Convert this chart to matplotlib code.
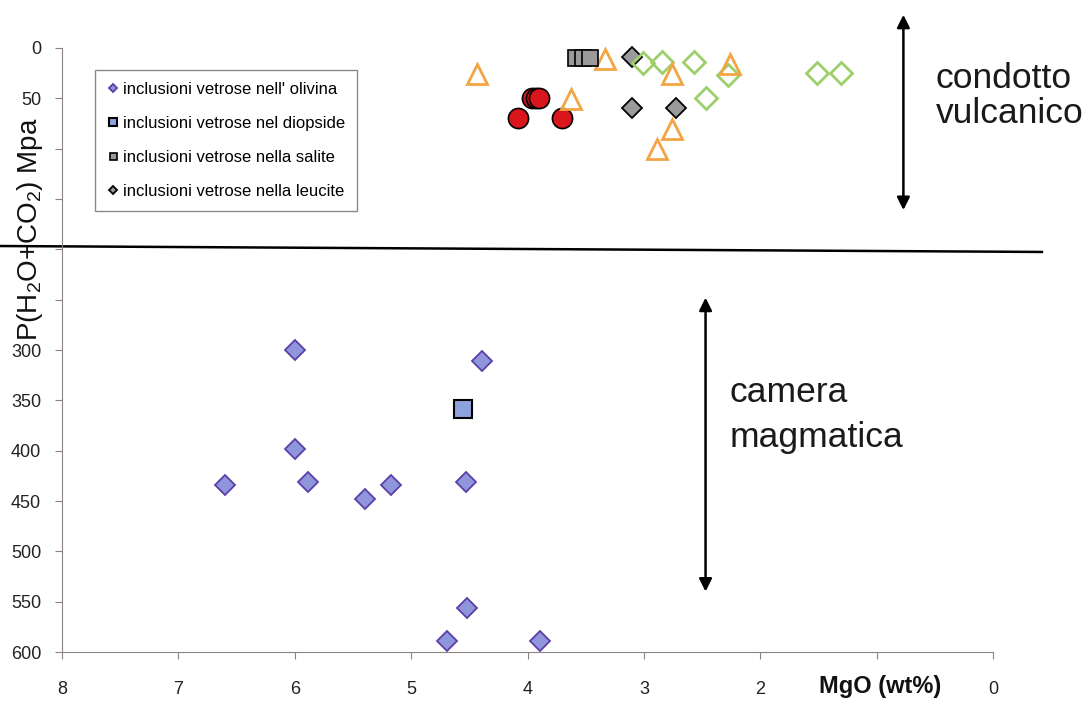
import matplotlib.pyplot as plt

plt.rcParams['font.family'] = ['Liberation Sans', 'DejaVu Sans']
plt.rcParams['mathtext.default'] = 'regular'

# MgO (wt%) e P(H2O+CO2) in MPa per ogni gruppo di inclusioni
oliv_mgo = [6.0, 4.39, 6.0, 6.6, 5.89, 5.4, 5.17, 4.53, 4.52, 4.69, 3.89]
oliv_p = [300, 311, 398, 434, 431, 448, 434, 431, 556, 589, 589]
diop_mgo = [4.55]
diop_p = [359]
sal_mgo = [3.58, 3.52, 3.46]
sal_p = [10, 10, 10]
leuc_mgo = [3.10, 3.10, 2.72]
leuc_p = [9, 60, 60]
rossi_mgo = [4.08, 3.70, 3.96, 3.93, 3.90]
rossi_p = [70, 70, 50, 50, 50]
tri_mgo = [4.43, 3.33, 3.63, 2.76, 2.26, 2.76, 2.89]
tri_p = [26, 11, 51, 26, 16, 80, 100]
verdi_mgo = [3.01, 2.84, 2.57, 2.28, 2.47, 1.51, 1.31]
verdi_p = [15, 14, 14, 27, 50, 25, 25]

yticks = [0, 50, 100, 150, 200, 250, 300, 350, 400, 450, 500, 550, 600]
ylabels = ['0', '50', '', '', '', '', '300', '350', '400', '450', '500', '550', '600']
xticks = [8, 7, 6, 5, 4, 3, 2, 1, 0]
xlabels = ['8', '7', '6', '5', '4', '3', '2', '', '0']

asse = '#8c8282'

fig = plt.figure(figsize=(10.86, 7.04), dpi=100)
ax = fig.add_axes([62/1086, 52/704, 931/1086, 604/704])

# linea di separazione condotto / camera
ax.plot([8.53, -0.42], [196.7, 202.6], color='black', lw=1.8, clip_on=False)

ax.plot(rossi_mgo, rossi_p, 'o', ms=14.5, mfc='#d8161c', mec='black', mew=1.2, clip_on=False)
ax.plot(leuc_mgo, leuc_p, 'D', ms=10, mfc='#9a9a9a', mec='black', mew=1.3,
        label='inclusioni vetrose nella leucite', clip_on=False)
ax.plot(verdi_mgo, verdi_p, 'D', ms=11, mfc='none', mec='#9dcf6b', mew=2, clip_on=False)
ax.plot(tri_mgo, tri_p, '^', ms=14, mfc='none', mec='#f4a443', mew=2, clip_on=False)
ax.plot(sal_mgo, sal_p, 's', ms=12, mfc='#9a9a9a', mec='black', mew=1.2,
        label='inclusioni vetrose nella salite', clip_on=False)
ax.plot(oliv_mgo, oliv_p, 'D', ms=10, mfc='#9096dc', mec='#5b3fa8', mew=1.3,
        label="inclusioni vetrose nell' olivina", clip_on=False)
ax.plot(diop_mgo, diop_p, 's', ms=13, mfc='#8fa2e0', mec='black', mew=1.5,
        label='inclusioni vetrose nel diopside', clip_on=False)

ax.set_xlim(8, 0)
ax.set_ylim(600, 0)
ax.set_xticks(xticks)
ax.set_xticklabels(xlabels)
ax.set_yticks(yticks)
ax.set_yticklabels(ylabels)

for s in ['top', 'right']:
    ax.spines[s].set_visible(False)
for s in ['left', 'bottom']:
    ax.spines[s].set_color(asse)
ax.tick_params(axis='both', colors=asse, labelcolor='#222222', labelsize=13, length=5)
ax.tick_params(axis='x', pad=16)
ax.tick_params(axis='y', pad=10)

ax.set_xlabel('MgO (wt%)', fontsize=17, fontweight='bold', color='#111111')
ax.xaxis.set_label_coords(0.879, -0.038)
ax.set_ylabel('P(H$_2$O+CO$_2$) Mpa', fontsize=20, color='#111111', va='center')
ax.yaxis.set_label_coords(-0.034, 0.70)

h, l = ax.get_legend_handles_labels()
ordine = [2, 3, 1, 0]
leg = ax.legend([h[i] for i in ordine], [l[i] for i in ordine], loc='upper left',
                bbox_to_anchor=(0.0354, 0.9636), borderaxespad=0, fontsize=12,
                markerscale=0.42, handlelength=0.8, handletextpad=0.2,
                labelspacing=1.15, borderpad=0.7, fancybox=False, framealpha=1)
leg.get_frame().set_edgecolor('#8a8a8a')
leg.get_frame().set_linewidth(1.0)

frecce = dict(arrowstyle='<|-|>', color='black', lw=1.8, mutation_scale=19,
              shrinkA=0, shrinkB=0)
ax.annotate('', xy=(0.77, -33), xytext=(0.77, 161), arrowprops=frecce,
            annotation_clip=False)
ax.annotate('', xy=(2.47, 248), xytext=(2.47, 540), arrowprops=frecce,
            annotation_clip=False)

ax.text(0.49, 39.7, 'condotto', fontsize=25.5, color='#1a1a1a', va='baseline', clip_on=False)
ax.text(0.49, 74.5, 'vulcanico', fontsize=25.5, color='#1a1a1a', va='baseline', clip_on=False)
ax.text(2.26, 351.6, 'camera', fontsize=25.5, color='#1a1a1a', va='baseline')
ax.text(2.26, 396, 'magmatica', fontsize=25.5, color='#1a1a1a', va='baseline')

fig.savefig('out.png', dpi=100)
